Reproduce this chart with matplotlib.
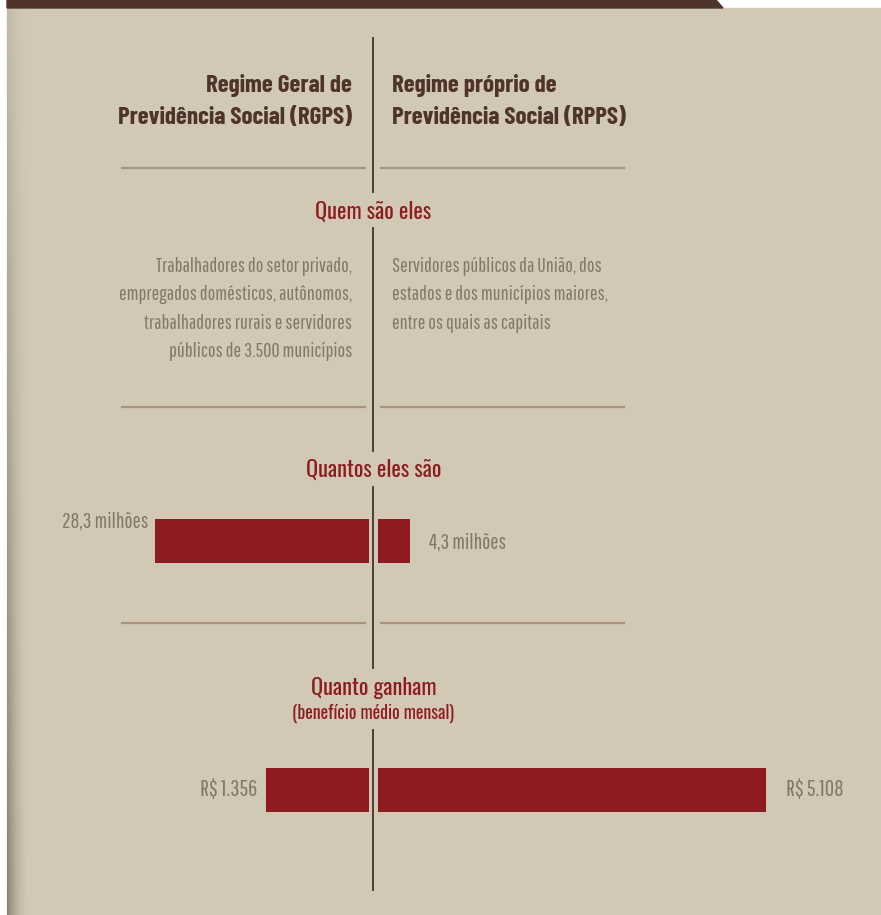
import numpy as np
import matplotlib
matplotlib.use("Agg")
import matplotlib.pyplot as plt
from matplotlib.patches import Polygon, Rectangle

plt.rcParams['font.family'] = ['Pathway Gothic One', 'DejaVu Sans']
HEAD_FONT = ['Barlow Condensed', 'DejaVu Sans']
TITLE_FONT = ['Oswald', 'DejaVu Sans']

# Data
regimes = [['Regime Geral de', 'Previdência Social (RGPS)'],
           ['Regime próprio de', 'Previdência Social (RPPS)']]
quem = [['Trabalhadores do setor privado,', 'empregados domésticos, autônomos,',
         'trabalhadores rurais e servidores', 'públicos de 3.500 municípios'],
        ['Servidores públicos da União, dos', 'estados e dos municípios maiores,',
         'entre os quais as capitais']]
segurados = [28.3, 4.3]          # milhões
segurados_lbl = ['28,3 milhões', '4,3 milhões']
beneficio = [1356, 5108]         # R$ por mês
beneficio_lbl = ['R$ 1.356', 'R$ 5.108']

W, H = 881, 915
CX = 373.5
BG = '#d1c9b6'
BROWN = '#4f342b'
RED = '#8e1b1f'
GRAY = '#85766a'
RULE = '#a8937f'

fig = plt.figure(figsize=(W / 100, H / 100), dpi=100, facecolor='white')
ax = fig.add_axes([0, 0, 1, 1])

# page background, header strip and left shadow
ax.add_patch(Rectangle((7, 8), W - 7, H - 8, color=BG, zorder=0))
ax.add_patch(Polygon([(7, 0), (716, 0), (723, 8), (7, 8)], color=BROWN, zorder=1))
xs = np.linspace(0, 1, 24)
ys = np.linspace(0, 1, 200)[:, None]
shade = np.zeros((200, 24, 4))
shade[..., :3] = np.array([0.42, 0.40, 0.34])
shade[..., 3] = (1 - xs) ** 2 * (0.15 + 0.55 * ys)
ax.imshow(shade, extent=(7, 31, H, 8), aspect='auto', zorder=1, interpolation='bilinear')
ax.set_xlim(0, W)
ax.set_ylim(H, 0)
ax.axis('off')

# central divider with breaks under the section titles
for y0, y1 in [(38, 192), (228, 451), (487, 668), (730, 890)]:
    ax.plot([CX - 0.5, CX - 0.5], [y0, y1], color='#4a2e28', lw=1.3, zorder=2)

# horizontal rules
for y in [168, 407, 623]:
    ax.plot([122, 365], [y, y], color=RULE, lw=1.6, zorder=2)
    ax.plot([381, 624], [y, y], color=RULE, lw=1.6, zorder=2)

# column headers
for i, line in enumerate(regimes[0]):
    ax.text(352, 92 + 32 * i, line, ha='right', va='baseline', fontsize=18,
            family=HEAD_FONT, fontweight='bold', color=BROWN)
for i, line in enumerate(regimes[1]):
    ax.text(392, 92 + 32 * i, line, ha='left', va='baseline', fontsize=18,
            family=HEAD_FONT, fontweight='bold', color=BROWN)

# section titles
title_kw = dict(ha='center', va='baseline', color=RED, fontsize=16, family=TITLE_FONT)
ax.text(CX, 219, 'Quem são eles', **title_kw)
ax.text(CX, 477, 'Quantos eles são', **title_kw)
ax.text(CX, 695, 'Quanto ganham', **title_kw)
ax.text(CX, 719, '(benefício médio mensal)', ha='center', va='baseline',
        color=RED, fontsize=12.8, family=TITLE_FONT)

# who they are
for i, line in enumerate(quem[0]):
    ax.text(352, 272 + 28.3 * i, line, ha='right', va='baseline',
            fontsize=14.6, color=GRAY)
for i, line in enumerate(quem[1]):
    ax.text(392, 272 + 28.3 * i, line, ha='left', va='baseline',
            fontsize=14.6, color=GRAY)


def bar_row(y_top, y_bot, values, labels, px_per_unit, lbl_y, lbl_gap, size):
    gap = 4.5
    bx = fig.add_axes([0, 1 - y_bot / H, 1, (y_bot - y_top) / H])
    bx.set_xlim(-CX / px_per_unit, (W - CX) / px_per_unit)
    bx.set_ylim(-0.5, 0.5)
    bx.axis('off')
    g = gap / px_per_unit
    bx.barh(0, -values[0], left=-g, height=1, color=RED)
    bx.barh(0, values[1], left=g, height=1, color=RED)
    left_end = CX - gap - values[0] * px_per_unit
    right_end = CX + gap + values[1] * px_per_unit
    ax.text(left_end - lbl_gap[0], lbl_y[0], labels[0], ha='right',
            va='baseline', color=GRAY, fontsize=size)
    ax.text(right_end + lbl_gap[1], lbl_y[1], labels[1], ha='left',
            va='baseline', color=GRAY, fontsize=size)


bar_row(519, 563, segurados, segurados_lbl, 7.55, (527, 548), (7, 19), 15.5)
bar_row(768, 812, beneficio, beneficio_lbl, 0.0759, (796, 796), (9, 20), 16.5)

fig.savefig('out.png', dpi=100, facecolor=fig.get_facecolor())
